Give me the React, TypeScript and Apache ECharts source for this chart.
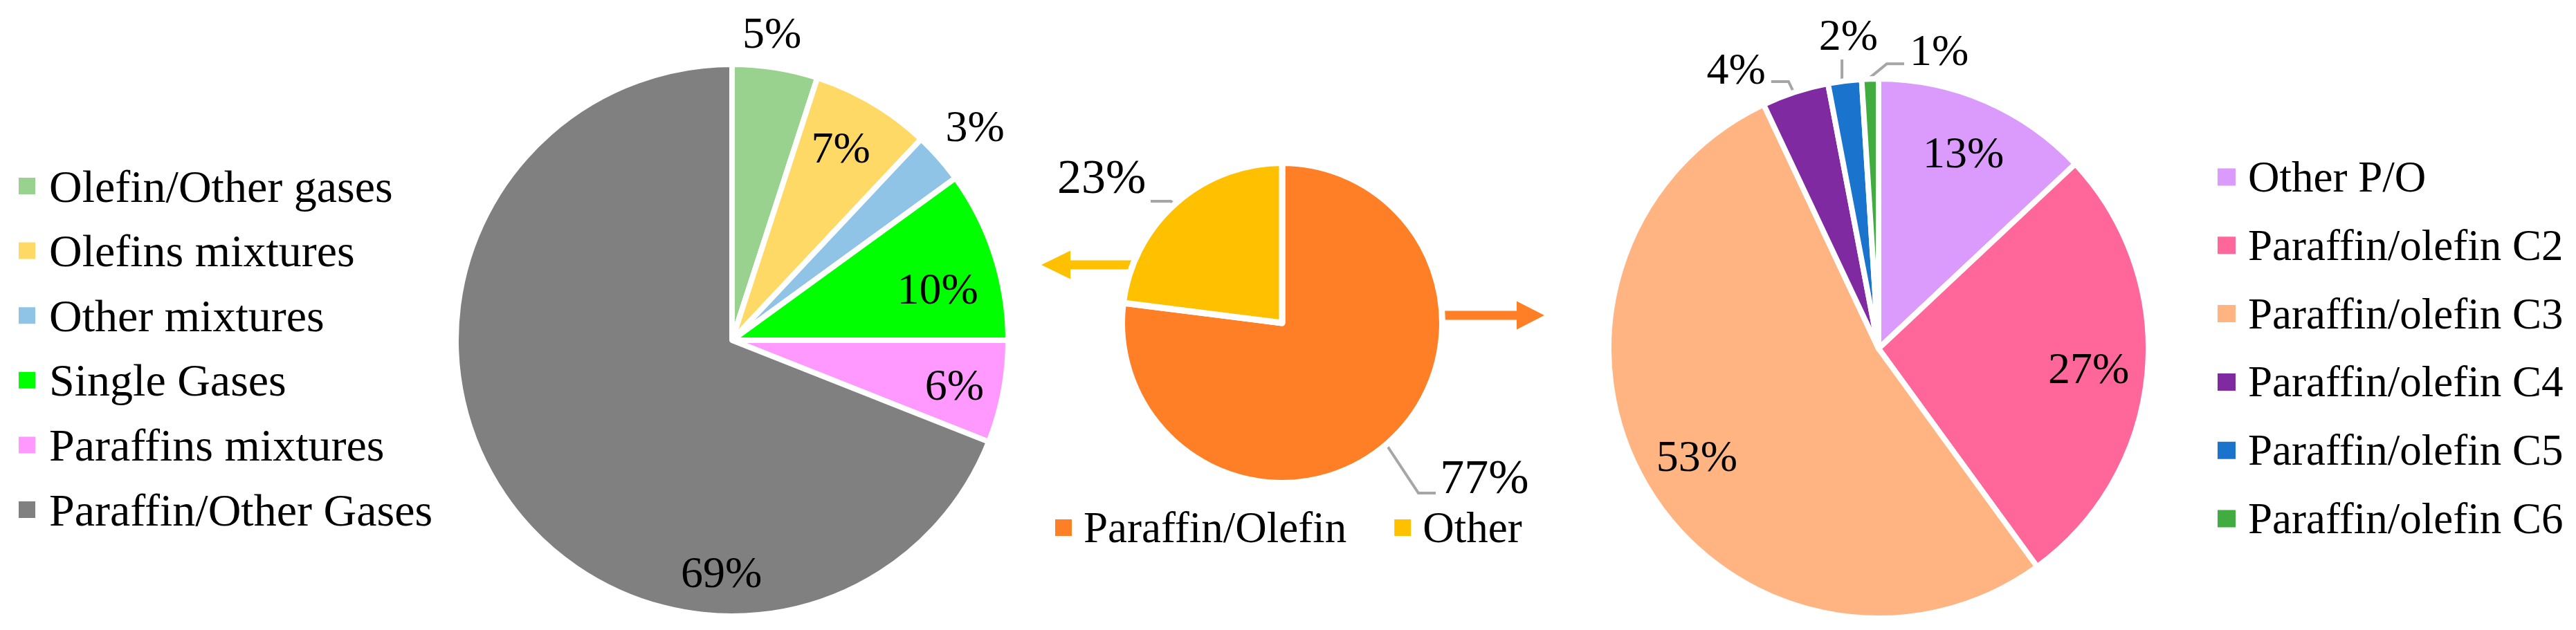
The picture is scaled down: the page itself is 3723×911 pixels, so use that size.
import React, { useEffect, useRef } from "react";
import * as echarts from "echarts";

const FONT = "Liberation Serif";

// ---- data ----
const leftNames = [
  "Olefin/Other gases",
  "Olefins mixtures",
  "Other mixtures",
  "Single Gases",
  "Paraffins mixtures",
  "Paraffin/Other Gases",
];
const leftValues = [5, 7, 3, 10, 6, 69];

const midNames = ["Paraffin/Olefin", "Other"];
const midValues = [77, 23];

const rightNames = [
  "Other P/O",
  "Paraffin/olefin C2",
  "Paraffin/olefin C3",
  "Paraffin/olefin C4",
  "Paraffin/olefin C5",
  "Paraffin/olefin C6",
];
const rightValues = [13, 27, 53, 4, 2, 1];

// ---- styles ----
const leftColors = ["#99D18F", "#FFD966", "#8FC4E6", "#00FF00", "#FF99FF", "#808080"];
const midColors = ["#FF7F27", "#FFC000"];
const rightColors = ["#DA9BFC", "#FF6699", "#FFB482", "#7F2AA0", "#1A73CC", "#41AD41"];

// geometry (visual radius)
const LEFT = { cx: 1058, cy: 492, r: 395 };
const MID = { cx: 1853, cy: 467, r: 227 };
const RIGHT = { cx: 2715, cy: 504, r: 386 };

// label placement: angle (deg clockwise from top, null = slice middle), radial fraction
type P = { a: number | null; f: number };
const leftLabelPos: P[] = [
  { a: 7.4, f: 1.134 },
  { a: 29.4, f: 0.81 },
  { a: null, f: 1.185 },
  { a: 76, f: 0.775 },
  { a: 101.4, f: 0.83 },
  { a: 182.6, f: 0.85 },
];
const midLabelPos: P[] = [
  { a: 127.3, f: 1.62 },
  { a: 309.1, f: 1.48 },
];
const rightLabelPos: P[] = [
  { a: null, f: 0.8 },
  { a: null, f: 0.79 },
  { a: null, f: 0.79 },
  { a: 333, f: 1.175 },
  { a: 354.5, f: 1.18 },
  { a: 11.5, f: 1.14 },
];
// leader lines in units of radius relative to centre
const midLines: (number[][] | null)[] = [
  [[0.661, 0.771], [0.868, 1.084], [0.978, 1.084]],
  [[-0.674, -0.753], [-0.709, -0.775], [-0.837, -0.775]],
];
const rightLines: (number[][] | null)[] = [
  null,
  null,
  null,
  [[-0.316, -0.956], [-0.337, -1.0], [-0.402, -1.0]],
  [[-0.137, -0.997], [-0.137, -1.04], [-0.137, -1.083]],
  [[-0.047, -1.003], [0.031, -1.067], [0.096, -1.067]],
];

function makeLayout(
  g: { cx: number; cy: number; r: number },
  values: number[],
  pos: P[],
  lines: (number[][] | null)[] | null
) {
  const total = values.reduce((a, b) => a + b, 0);
  const mids: number[] = [];
  let acc = 0;
  values.forEach((v) => {
    mids.push(((acc + v / 2) / total) * 360);
    acc += v;
  });
  return (params: any) => {
    const i = params.dataIndex;
    const p = pos[i];
    const ang = ((p.a == null ? mids[i] : p.a) * Math.PI) / 180;
    const out: any = {
      x: g.cx + p.f * g.r * Math.sin(ang),
      y: g.cy - p.f * g.r * Math.cos(ang),
      align: "center",
      verticalAlign: "middle",
    };
    const ln = lines ? lines[i] : null;
    if (ln) out.labelLinePoints = ln.map(([u, v]) => [g.cx + u * g.r, g.cy + v * g.r]);
    return out;
  };
}

export default function App() {
  const ref = useRef<HTMLDivElement>(null);
  useEffect(() => {
    if (!ref.current) return;
    const chart = echarts.init(ref.current, null, { renderer: "svg" });
    const labelBase = { show: true, formatter: "{c}%", fontFamily: FONT, color: "#000" };
    const lineStyle = { color: "#A6A6A6", width: 4 };
    const option: any = {
      animation: false,
      backgroundColor: "#fff",
      textStyle: { fontFamily: FONT },
      graphic: [
        { type: "rect", z: 0, shape: { x: 1545, y: 376.5, width: 110, height: 13 }, style: { fill: "#FFC000" } },
        { type: "polygon", z: 0, shape: { points: [[1505, 383], [1547, 362.5], [1547, 403.5]] }, style: { fill: "#FFC000" } },
        { type: "rect", z: 0, shape: { x: 2060, y: 449.5, width: 133, height: 13 }, style: { fill: "#FF7F27" } },
        { type: "polygon", z: 0, shape: { points: [[2232, 456], [2192, 435.5], [2192, 476.5]] }, style: { fill: "#FF7F27" } },
      ],
      legend: [
        {
          data: leftNames,
          orient: "vertical",
          left: 25,
          top: 234,
          padding: 0,
          icon: "rect",
          itemWidth: 26,
          itemHeight: 26,
          itemGap: 23.6,
          selectedMode: false,
          textStyle: { fontFamily: FONT, fontSize: 66, color: "#000", lineHeight: 70, padding: [0, 0, 0, 14] },
        },
        {
          data: midNames,
          orient: "horizontal",
          left: 1523,
          top: 728,
          padding: 0,
          icon: "rect",
          itemWidth: 26,
          itemHeight: 26,
          itemGap: 67,
          selectedMode: false,
          textStyle: { fontFamily: FONT, fontSize: 63, color: "#000", lineHeight: 70, padding: [0, 0, 0, 11] },
        },
        {
          data: rightNames,
          orient: "vertical",
          left: 3203,
          top: 221,
          padding: 0,
          icon: "rect",
          itemWidth: 28,
          itemHeight: 27,
          itemGap: 28.8,
          selectedMode: false,
          textStyle: { fontFamily: FONT, fontSize: 63, color: "#000", lineHeight: 70, padding: [0, 0, 0, 12] },
        },
      ],
      series: [
        {
          type: "pie",
          center: [LEFT.cx, LEFT.cy],
          radius: LEFT.r + 4,
          startAngle: 90,
          clockwise: true,
          avoidLabelOverlap: false,
          emphasis: { disabled: true },
          itemStyle: { borderColor: "#fff", borderWidth: 8 },
          label: { ...labelBase, fontSize: 64, position: "outside" },
          labelLine: { show: false },
          labelLayout: makeLayout(LEFT, leftValues, leftLabelPos, null),
          data: leftNames.map((n, i) => ({ name: n, value: leftValues[i], itemStyle: { color: leftColors[i] } })),
        },
        {
          type: "pie",
          center: [MID.cx, MID.cy],
          radius: MID.r + 4.5,
          startAngle: 90,
          clockwise: true,
          avoidLabelOverlap: false,
          emphasis: { disabled: true },
          itemStyle: { borderColor: "#fff", borderWidth: 9 },
          label: { ...labelBase, fontSize: 70, position: "outside" },
          labelLine: { show: true, lineStyle },
          labelLayout: makeLayout(MID, midValues, midLabelPos, midLines),
          data: midNames.map((n, i) => ({
            name: n,
            value: midValues[i],
            itemStyle: { color: midColors[i] },
          })),
        },
        {
          type: "pie",
          center: [RIGHT.cx, RIGHT.cy],
          radius: RIGHT.r + 4,
          startAngle: 90,
          clockwise: true,
          avoidLabelOverlap: false,
          emphasis: { disabled: true },
          itemStyle: { borderColor: "#fff", borderWidth: 8 },
          label: { ...labelBase, fontSize: 64, position: "outside" },
          labelLine: { show: true, lineStyle },
          labelLayout: makeLayout(RIGHT, rightValues, rightLabelPos, rightLines),
          data: rightNames.map((n, i) => ({
            name: n,
            value: rightValues[i],
            itemStyle: { color: rightColors[i] },
            labelLine: { show: !!rightLines[i], lineStyle },
          })),
        },
      ],
    };
    chart.setOption(option);
    return () => chart.dispose();
  }, []);
  return (
    <div
      ref={ref}
      style={{ position: "absolute", left: 0, top: 0, width: 3723, height: 911 }}
    />
  );
}
